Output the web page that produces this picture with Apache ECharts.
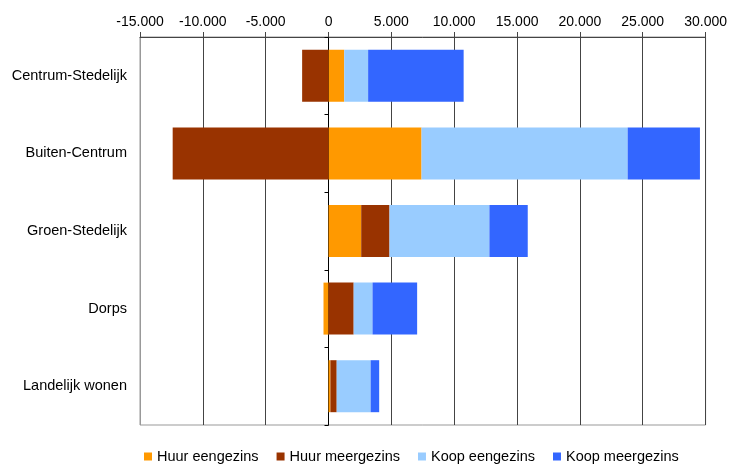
<!DOCTYPE html>
<html>
<head>
<meta charset="utf-8">
<script src="https://cdn.jsdelivr.net/npm/echarts@6/dist/echarts.min.js"></script>
<style>
  html, body { margin: 0; padding: 0; background: #fff; }
  #container { width: 730px; height: 465px; }
</style>
</head>
<body>
<div id="container"></div>
<script>
// data
var categories = ['Centrum-Stedelijk', 'Buiten-Centrum', 'Groen-Stedelijk', 'Dorps', 'Landelijk wonen'];
var huurEengezins = [1250, 7400, 2600, -400, 150];
var huurMeergezins = [-2100, -12400, 2250, 2000, 500];
var koopEengezins = [1900, 16400, 7950, 1500, 2700];
var koopMeergezins = [7600, 5750, 3050, 3550, 680];
var seriesNames = ['Huur eengezins', 'Huur meergezins', 'Koop eengezins', 'Koop meergezins'];
var colors = ['#FF9900', '#993300', '#99CCFF', '#3366FF'];

function fmt(v) {
    var s = String(Math.abs(v)).replace(/\B(?=(\d{3})+(?!\d))/g, '.');
    return (v < 0 ? '-' : '') + s;
}

var font = 'Liberation Sans, Arial, sans-serif';
var dom = document.getElementById('container');
var myChart = echarts.init(dom);

var values = [huurEengezins, huurMeergezins, koopEengezins, koopMeergezins];
var series = [];
for (var i = 0; i < seriesNames.length; i++) {
    series.push({
        name: seriesNames[i],
        type: 'bar',
        stack: 'total',
        barWidth: '67%',
        itemStyle: { color: colors[i] },
        data: values[i]
    });
}

var option = {
    animation: false,
    color: colors,
    grid: {
        left: 140, right: 23, top: 37, bottom: 40,
        show: true, borderColor: '#999', borderWidth: 1
    },
    legend: {
        top: 444,
        left: 139,
        icon: 'rect',
        itemWidth: 8,
        itemHeight: 8,
        itemGap: 18,
        textStyle: { fontFamily: font, fontSize: 14.5, color: '#000' },
        data: seriesNames
    },
    xAxis: {
        type: 'value',
        position: 'top',
        min: -15000,
        max: 30000,
        interval: 5000,
        axisLine: { show: true, lineStyle: { color: '#444', width: 1 } },
        axisTick: { show: true, length: 5, lineStyle: { color: '#444' } },
        axisLabel: {
            margin: 8,
            fontFamily: font, fontSize: 14, color: '#000',
            formatter: fmt
        },
        splitLine: {
            show: true,
            lineStyle: { color: ['#999', '#444', '#444', '#444', '#444', '#444', '#444', '#444', '#444', '#444'], width: 1 }
        }
    },
    yAxis: [
        {
            type: 'category',
            inverse: true,
            data: categories,
            axisLine: { show: false, onZero: false },
            axisTick: { show: false },
            axisLabel: { margin: 13, fontFamily: font, fontSize: 14.5, color: '#000' }
        },
        {
            // zero line with ticks between categories
            type: 'category',
            inverse: true,
            data: categories,
            position: 'left',
            axisLine: { show: true, onZero: true, lineStyle: { color: '#000', width: 1 } },
            axisTick: { show: true, length: 4, lineStyle: { color: '#000' } },
            axisLabel: { show: false }
        }
    ],
    series: series
};

myChart.setOption(option, true);
</script>
</body>
</html>
